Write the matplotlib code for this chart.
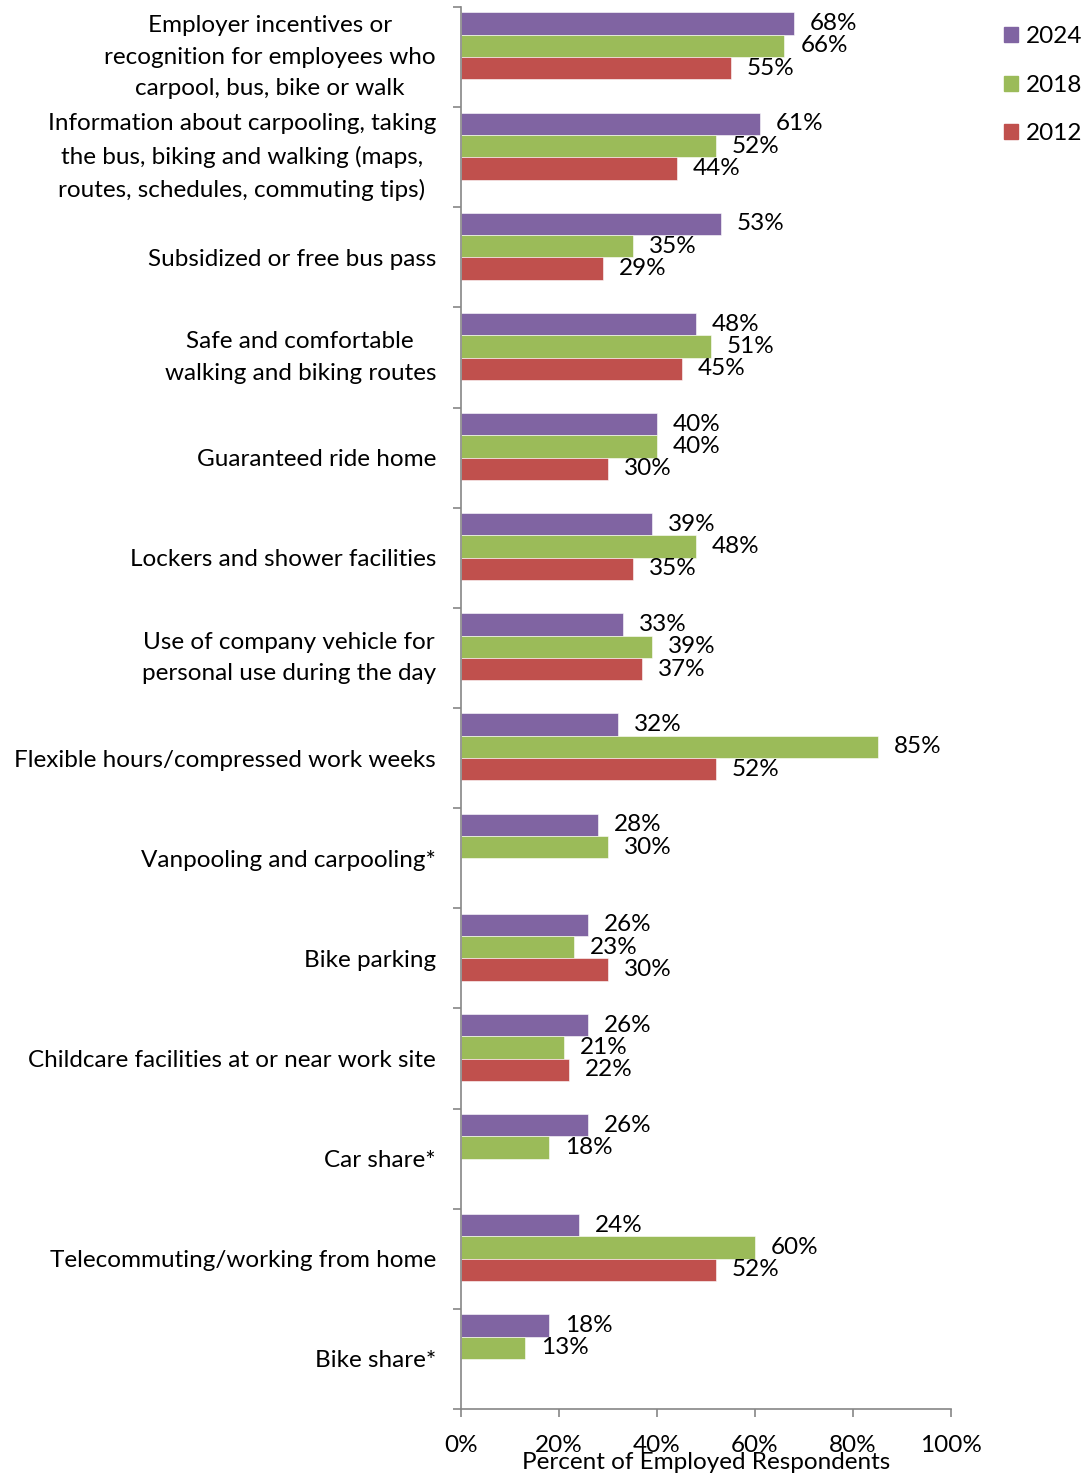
import matplotlib.pyplot as plt
import matplotlib.patches as mpatches
import numpy as np

plt.rcParams['font.family'] = ['Lato', 'DejaVu Sans']

categories = [
    'Employer incentives or\nrecognition for employees who\ncarpool, bus, bike or walk',
    'Information about carpooling, taking\nthe bus, biking and walking (maps,\nroutes, schedules, commuting tips)',
    'Subsidized or free bus pass',
    'Safe and comfortable\nwalking and biking routes',
    'Guaranteed ride home',
    'Lockers and shower facilities',
    'Use of company vehicle for\npersonal use during the day',
    'Flexible hours/compressed work weeks',
    'Vanpooling and carpooling*',
    'Bike parking',
    'Childcare facilities at or near work site',
    'Car share*',
    'Telecommuting/working from home',
    'Bike share*',
]

years = ['2024', '2018', '2012']
vals_2024 = [68, 61, 53, 48, 40, 39, 33, 32, 28, 26, 26, 26, 24, 18]
vals_2018 = [66, 52, 35, 51, 40, 48, 39, 85, 30, 23, 21, 18, 60, 13]
vals_2012 = [55, 44, 29, 45, 30, 35, 37, 52, None, 30, 22, None, 52, None]

colors = ['#8064A2', '#9BBB59', '#C0504D']
axis_gray = '#868686'
fs = 17.5

fig = plt.figure(figsize=(10.86, 14.73), dpi=100)
ax = fig.add_axes([461 / 1086, 1 - 1409 / 1473, 490 / 1086, 1402 / 1473])

y = np.arange(len(categories))
h = 0.2227  # four slots per group, the last one stays empty
offsets = [-1.5 * h, -0.5 * h, 0.5 * h]

for series, off, col in zip([vals_2024, vals_2018, vals_2012], offsets, colors):
    for i, v in enumerate(series):
        if v is None:
            continue
        ax.barh(y[i] + off, v, height=h, color=col, edgecolor='white', linewidth=0.4)
        ax.annotate(f'{v}%', (v, y[i] + off), xytext=(11.5, 0), textcoords='offset points',
                    ha='left', va='center', fontsize=fs)

ax.set_xlim(0, 100)
ax.set_ylim(len(categories) - 0.5, -0.5)

ax.set_yticks(y)
ax.set_yticklabels(categories, fontsize=fs, linespacing=1.62)
ax.set_yticks(np.arange(-0.5, len(categories)), minor=True)
ax.tick_params(axis='y', which='major', length=0, pad=18)
ax.tick_params(axis='y', which='minor', length=6, color=axis_gray, width=1.2)
for lab in ax.get_yticklabels():
    lab.set_multialignment('center')
    if '\n' in lab.get_text():
        lab.set_verticalalignment('center')

ax.set_xticks(np.arange(0, 101, 20))
ax.xaxis.set_major_formatter(plt.FuncFormatter(lambda x, pos: f'{x:.0f}%'))
ax.tick_params(axis='x', length=6, color=axis_gray, width=1.2, pad=13, labelsize=fs)

for side in ['top', 'right']:
    ax.spines[side].set_visible(False)
for side in ['left', 'bottom']:
    ax.spines[side].set_color(axis_gray)
    ax.spines[side].set_linewidth(1.2)

ax.set_xlabel('Percent of Employed Respondents', fontsize=fs, va='center')
ax.xaxis.set_label_coords(0.5, -0.038)

handles = [mpatches.Patch(color=c, label=yr) for c, yr in zip(colors, years)]
fig.legend(handles=handles, loc='upper left', bbox_to_anchor=(1004 / 1086, 1 - 26 / 1473),
           frameon=False, fontsize=fs, handlelength=0.58, handleheight=0.58,
           handletextpad=0.3, labelspacing=1.14, borderpad=0, borderaxespad=0)

fig.savefig('out.png', dpi=100)
